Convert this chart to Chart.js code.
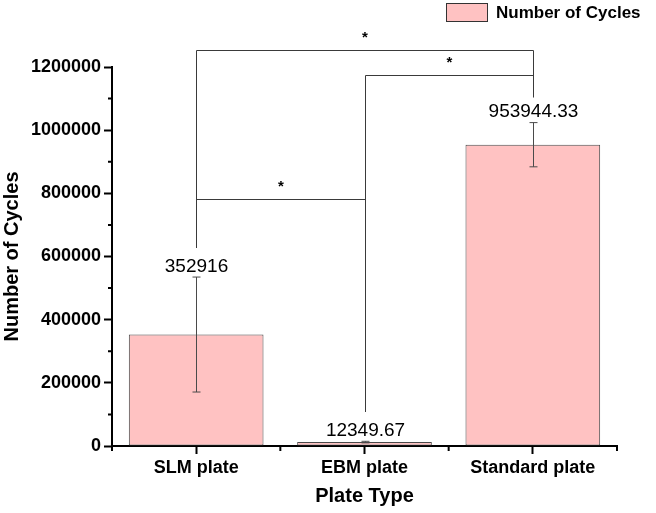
<!DOCTYPE html>
<html>
<head>
<meta charset="utf-8">
<script src="https://cdn.jsdelivr.net/npm/chart.js@4/dist/chart.umd.min.js"></script>
<style>
  html, body { margin: 0; padding: 0; background: #fff; }
  #wrap { width: 656px; height: 513px; }
</style>
</head>
<body>
<div id="wrap"><canvas id="chart"></canvas></div>
<script>
// data
const categories = ["SLM plate", "EBM plate", "Standard plate"];
const cycles = [352916, 12349.67, 953944.33];
const errors = [182000, 2500, 70000];
const yTicks = [0, 200000, 400000, 600000, 800000, 1000000, 1200000];

// significance brackets: pair of categories, bracket height, and where each leg stops
const bracketPairs = [[0, 1], [1, 2], [0, 2]];
const bracketHeights = [781000, 1174000, 1253000];
const legBottoms = [627000, 108000, 1104000];
const bracketMarks = ["*", "*", "*"];

const FONT = "'Liberation Sans', Arial, sans-serif";
const barFill = "#FFC2C2";
const lineGray = "#4a4a4a";

// error bars, value labels, brackets, minor ticks, legend
const extras = {
    id: "extras",
    afterDatasetsDraw(chart) {
        const ctx = chart.ctx;
        const x = chart.scales.x;
        const y = chart.scales.y;
        const area = chart.chartArea;
        ctx.save();

        // error bars + value labels
        ctx.strokeStyle = lineGray;
        ctx.lineWidth = 1;
        ctx.fillStyle = "#000";
        ctx.font = "19px " + FONT;
        ctx.textAlign = "center";
        ctx.textBaseline = "bottom";
        cycles.forEach((v, i) => {
            const px = Math.round(x.getPixelForValue(i)) + 0.5;
            const top = y.getPixelForValue(v + errors[i]);
            const bot = y.getPixelForValue(v - errors[i]);
            ctx.beginPath();
            ctx.moveTo(px, top); ctx.lineTo(px, bot);
            ctx.moveTo(px - 4, top); ctx.lineTo(px + 4, top);
            ctx.moveTo(px - 4, bot); ctx.lineTo(px + 4, bot);
            ctx.stroke();
            ctx.fillText(String(v), px, top - 1);
        });

        // brackets
        ctx.strokeStyle = "#3a3a3a";
        ctx.lineWidth = 1;
        ctx.font = "bold 15px " + FONT;
        ctx.textBaseline = "alphabetic";
        bracketPairs.forEach((pair, k) => {
            const a = pair[0], b = pair[1];
            const xa = Math.round(x.getPixelForValue(a)) + 0.5;
            const xb = Math.round(x.getPixelForValue(b)) + 0.5;
            const yb = Math.round(y.getPixelForValue(bracketHeights[k])) + 0.5;
            ctx.beginPath();
            ctx.moveTo(xa, y.getPixelForValue(legBottoms[a]));
            ctx.lineTo(xa, yb);
            ctx.lineTo(xb, yb);
            ctx.lineTo(xb, y.getPixelForValue(legBottoms[b]));
            ctx.stroke();
            ctx.fillText(bracketMarks[k], (xa + xb) / 2, yb - 9);
        });

        // minor ticks
        ctx.strokeStyle = "#000";
        ctx.lineWidth = 2;
        ctx.beginPath();
        for (let i = 0; i < yTicks.length - 1; i++) {
            const py = y.getPixelForValue((yTicks[i] + yTicks[i + 1]) / 2);
            ctx.moveTo(area.left - 4, py); ctx.lineTo(area.left, py);
        }
        for (let i = 0; i <= categories.length; i++) {
            const px = x.getPixelForValue(i - 0.5);
            ctx.moveTo(px, area.bottom); ctx.lineTo(px, area.bottom + 5);
        }
        ctx.stroke();

        // legend
        const label = chart.data.datasets[0].label;
        ctx.fillStyle = barFill;
        ctx.fillRect(446, 3, 42, 19);
        ctx.strokeStyle = "#333";
        ctx.lineWidth = 1;
        ctx.strokeRect(446.5, 3.5, 41, 18);
        ctx.fillStyle = "#000";
        ctx.font = "bold 17px " + FONT;
        ctx.textAlign = "left";
        ctx.textBaseline = "middle";
        ctx.fillText(label, 496, 13);

        ctx.restore();
    }
};

const ctx = document.getElementById("chart").getContext("2d");

new Chart(ctx, {
    type: "bar",
    data: {
        labels: categories,
        datasets: [{
            label: "Number of Cycles",
            data: cycles,
            backgroundColor: barFill,
            borderColor: lineGray,
            borderWidth: 1,
            borderSkipped: false,
            barPercentage: 0.8,
            categoryPercentage: 1.0
        }]
    },
    options: {
        responsive: true,
        maintainAspectRatio: false,
        animation: false,
        layout: { padding: { top: 67, right: 39, left: 0, bottom: 0 } },
        plugins: {
            legend: { display: false },
            tooltip: { enabled: false }
        },
        scales: {
            x: {
                grid: {
                    display: true, offset: false, drawOnChartArea: false,
                    drawTicks: true, tickLength: 8, tickWidth: 2, tickColor: "#000"
                },
                border: { display: true, color: "#000", width: 2 },
                ticks: { color: "#000", padding: 3, font: { family: FONT, size: 18, weight: "bold" } },
                title: {
                    display: true, text: "Plate Type", color: "#000",
                    font: { family: FONT, size: 20, weight: "bold" },
                    padding: { top: 0, bottom: 5 }
                },
                afterFit(scale) { scale.height = 67; }
            },
            y: {
                min: 0,
                max: 1200000,
                grid: {
                    display: true, drawOnChartArea: false,
                    drawTicks: true, tickLength: 8, tickWidth: 2, tickColor: "#000"
                },
                border: { display: true, color: "#000", width: 2 },
                ticks: {
                    stepSize: 200000, color: "#000", padding: 3,
                    font: { family: FONT, size: 18, weight: "bold" },
                    callback: v => String(v)
                },
                title: {
                    display: true, text: "Number of Cycles", color: "#000",
                    font: { family: FONT, size: 20, weight: "bold" },
                    padding: { top: 0, bottom: 0 }
                },
                afterFit(scale) { scale.width = 112; }
            }
        }
    },
    plugins: [extras]
});
</script>
</body>
</html>
